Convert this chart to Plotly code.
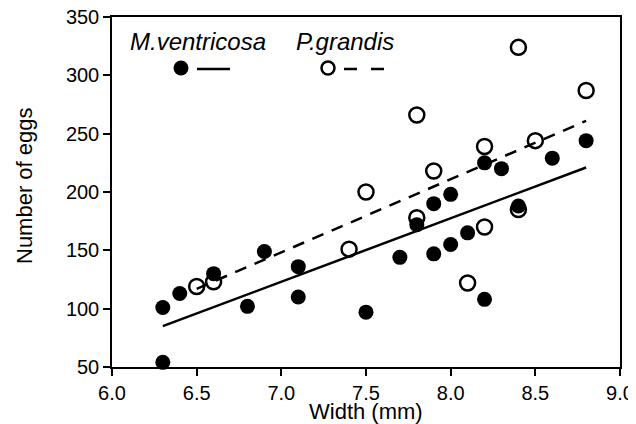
import plotly.graph_objects as go

# M. ventricosa (filled circles)
mv_width = [6.3, 6.3, 6.4, 6.6, 6.8, 6.9, 7.1, 7.1, 7.5, 7.7, 7.8, 7.9, 7.9, 8.0, 8.0, 8.1, 8.2, 8.2, 8.3, 8.4, 8.6, 8.8]
mv_eggs = [101, 54, 113, 130, 102, 149, 136, 110, 97, 144, 172, 190, 147, 198, 155, 165, 225, 108, 220, 188, 229, 244]

# P. grandis (open circles)
pg_width = [6.5, 6.6, 7.4, 7.5, 7.8, 7.8, 7.9, 8.1, 8.2, 8.2, 8.4, 8.4, 8.5, 8.8]
pg_eggs = [119, 123, 151, 200, 178, 266, 218, 122, 170, 239, 185, 324, 244, 287]

# Fitted regression lines (endpoints)
mv_fit_x = [6.3, 8.8]
mv_fit_y = [85, 221]
pg_fit_x = [6.5, 8.8]
pg_fit_y = [117, 261]

x_ticks = [6.0, 6.5, 7.0, 7.5, 8.0, 8.5, 9.0]
y_ticks = [50, 100, 150, 200, 250, 300, 350]

FONT = "Arial, Liberation Sans, Helvetica, sans-serif"

fig = go.Figure()
fig.add_trace(go.Scatter(x=pg_width, y=pg_eggs, mode="markers",
                         marker=dict(size=15, color="white", line=dict(color="black", width=2.5)),
                         showlegend=False, cliponaxis=False))
fig.add_trace(go.Scatter(x=mv_width, y=mv_eggs, mode="markers",
                         marker=dict(size=15, color="black", line=dict(color="black", width=0)),
                         showlegend=False, cliponaxis=False))
fig.add_trace(go.Scatter(x=mv_fit_x, y=mv_fit_y, mode="lines",
                         line=dict(color="black", width=2.5), showlegend=False))
fig.add_trace(go.Scatter(x=pg_fit_x, y=pg_fit_y, mode="lines",
                         line=dict(color="black", width=2.5, dash="12px,9px"), showlegend=False))

# page body has an 8px margin; plot area in page pixels is 112..620 x 17..367
def px(xp):
    return (xp - 112) / 508.0

def py(yp):
    return (367 - yp) / 350.0

fig.add_annotation(x=px(128), y=py(41), xref="paper", yref="paper", text="<i>M.ventricosa</i>",
                   showarrow=False, xanchor="left", yanchor="middle",
                   font=dict(family=FONT, size=24, color="black"))
fig.add_annotation(x=px(294), y=py(41), xref="paper", yref="paper", text="<i>P.grandis</i>",
                   showarrow=False, xanchor="left", yanchor="middle",
                   font=dict(family=FONT, size=24, color="black"))

# axis titles
fig.add_annotation(x=px(366), y=py(411), xref="paper", yref="paper", text="Width (mm)",
                   showarrow=False, xanchor="center", yanchor="middle",
                   font=dict(family=FONT, size=22, color="black"))
fig.add_annotation(x=px(24), y=py(186), xref="paper", yref="paper", text="Number of eggs",
                   showarrow=False, xanchor="center", yanchor="middle", textangle=-90,
                   font=dict(family=FONT, size=22, color="black"))

fig.add_shape(type="circle", xref="paper", yref="paper", xsizemode="pixel", ysizemode="pixel",
              xanchor=px(181), yanchor=py(68), x0=-7.5, x1=7.5, y0=-7.5, y1=7.5,
              fillcolor="black", line=dict(color="black", width=0))
fig.add_shape(type="line", xref="paper", yref="paper", x0=px(197), x1=px(230), y0=py(69), y1=py(69),
              line=dict(color="black", width=2.5))
fig.add_shape(type="circle", xref="paper", yref="paper", xsizemode="pixel", ysizemode="pixel",
              xanchor=px(328), yanchor=py(68), x0=-6.5, x1=6.5, y0=-6.5, y1=6.5,
              fillcolor="white", line=dict(color="black", width=2.5))
fig.add_shape(type="line", xref="paper", yref="paper", x0=px(344), x1=px(357), y0=py(69), y1=py(69),
              line=dict(color="black", width=2.5))
fig.add_shape(type="line", xref="paper", yref="paper", x0=px(371), x1=px(384), y0=py(69), y1=py(69),
              line=dict(color="black", width=2.5))

fig.update_layout(
    width=628, height=416,
    margin=dict(l=104, r=16, t=9, b=57),
    paper_bgcolor="white", plot_bgcolor="white",
    font=dict(family=FONT, size=20, color="black"),
    showlegend=False,
)
fig.update_xaxes(range=[6.0, 9.0], tickvals=x_ticks, ticktext=[f"{v:.1f}" for v in x_ticks],
                 ticks="outside", ticklen=7, tickwidth=1.5, tickcolor="black",
                 showline=True, linecolor="black", linewidth=1.5, mirror=True,
                 showgrid=False, zeroline=False, automargin=False, ticklabeloverflow="allow")
fig.update_yaxes(range=[50, 350], tickvals=y_ticks,
                 ticks="outside", ticklen=7, tickwidth=1.5, tickcolor="black",
                 showline=True, linecolor="black", linewidth=1.5, mirror=True,
                 showgrid=False, zeroline=False, automargin=False, ticklabeloverflow="allow")

fig.write_html("out.html")
